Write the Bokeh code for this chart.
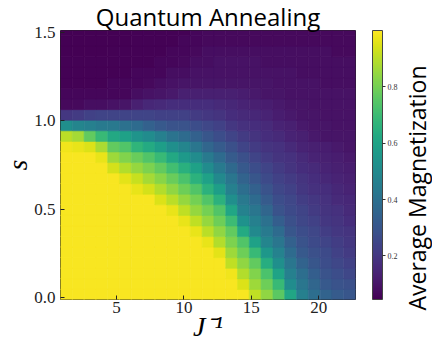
from bokeh.plotting import figure
from bokeh.layouts import row
from bokeh.models import (ColumnDataSource, LinearColorMapper, ColorBar, FixedTicker,
                          Range1d, NumeralTickFormatter, Title)
from bokeh.palettes import Viridis256
from bokeh.transform import transform
from bokeh.embed import file_html
from bokeh.resources import INLINE

# ---- data ----
j_inv = [1.29, 2.16, 3.04, 3.91, 4.79, 5.66, 6.54, 7.41, 8.29, 9.16, 10.04, 10.91, 11.79,
         12.66, 13.54, 14.41, 15.29, 16.16, 17.04, 17.91, 18.79, 19.66, 20.54, 21.41, 22.29]
s_vals = [0.015, 0.075, 0.135, 0.195, 0.255, 0.315, 0.375, 0.435, 0.495, 0.555, 0.615, 0.675, 0.735,
          0.795, 0.855, 0.915, 0.975, 1.035, 1.095, 1.155, 1.215, 1.275, 1.335, 1.395, 1.455, 1.515]
# one list per J^-1 column, s ascending
magnetization = [
    [.99, .99, .99, .99, .99, .99, .99, .99, .99, .99, .99, .99, .99, .99, .98, .90, .52, .20, .07, .06, .05, .05, .05, .04, .04, .04],
    [.99, .99, .99, .99, .99, .99, .99, .99, .99, .99, .99, .99, .99, .99, .97, .87, .48, .21, .07, .06, .05, .05, .05, .04, .04, .04],
    [.99, .99, .99, .99, .99, .99, .99, .99, .99, .99, .99, .99, .99, .99, .95, .77, .46, .23, .08, .06, .05, .05, .05, .04, .04, .04],
    [.99, .99, .99, .99, .99, .99, .99, .99, .99, .99, .99, .99, .99, .97, .88, .69, .44, .24, .08, .06, .05, .05, .05, .04, .04, .04],
    [.99, .99, .99, .99, .99, .99, .99, .99, .99, .99, .99, .99, .94, .86, .77, .62, .43, .24, .09, .06, .06, .05, .05, .05, .04, .04],
    [.99, .99, .99, .99, .99, .99, .99, .99, .99, .99, .99, .96, .89, .82, .74, .59, .40, .24, .10, .06, .06, .05, .05, .05, .04, .04],
    [.99, .99, .99, .99, .99, .99, .99, .99, .99, .99, .97, .92, .85, .78, .67, .54, .38, .24, .13, .08, .06, .06, .05, .05, .05, .05],
    [.99, .99, .99, .99, .99, .99, .99, .99, .99, .99, .94, .87, .81, .74, .63, .51, .34, .24, .15, .09, .07, .06, .05, .05, .05, .05],
    [.99, .99, .99, .99, .99, .99, .99, .99, .99, .95, .89, .83, .77, .69, .58, .46, .31, .23, .16, .10, .08, .06, .06, .05, .05, .05],
    [.99, .99, .99, .99, .99, .99, .99, .99, .97, .90, .84, .78, .71, .62, .52, .41, .29, .23, .17, .11, .09, .08, .06, .06, .05, .05],
    [.99, .99, .99, .99, .99, .99, .99, .97, .91, .85, .79, .73, .65, .56, .48, .38, .29, .23, .17, .13, .10, .08, .07, .06, .06, .05],
    [.99, .99, .99, .99, .99, .99, .97, .91, .85, .80, .74, .66, .59, .51, .42, .34, .27, .21, .17, .13, .10, .09, .08, .07, .06, .06],
    [.99, .99, .99, .99, .99, .97, .90, .85, .80, .74, .66, .59, .51, .44, .36, .30, .25, .20, .17, .13, .10, .09, .08, .08, .07, .07],
    [.99, .99, .99, .99, .96, .89, .84, .79, .74, .66, .58, .50, .44, .38, .32, .27, .23, .19, .16, .13, .10, .09, .09, .08, .07, .07],
    [.99, .99, .98, .91, .86, .81, .77, .70, .61, .52, .46, .42, .37, .32, .28, .24, .20, .17, .15, .13, .10, .09, .09, .08, .07, .07],
    [.99, .95, .89, .84, .79, .74, .63, .53, .47, .43, .39, .35, .31, .28, .24, .21, .18, .16, .14, .12, .10, .09, .09, .08, .07, .07],
    [.91, .86, .82, .77, .69, .59, .50, .46, .42, .38, .34, .30, .27, .24, .21, .19, .17, .15, .13, .11, .10, .09, .09, .08, .07, .07],
    [.84, .79, .73, .64, .55, .48, .44, .40, .36, .32, .29, .26, .24, .21, .19, .17, .16, .14, .12, .10, .10, .09, .08, .08, .07, .07],
    [.76, .69, .60, .52, .47, .42, .38, .33, .29, .27, .25, .23, .21, .19, .18, .16, .14, .12, .11, .10, .09, .09, .08, .08, .07, .07],
    [.61, .51, .46, .42, .38, .34, .30, .28, .26, .25, .23, .21, .19, .18, .16, .14, .13, .11, .10, .09, .09, .09, .08, .08, .07, .07],
    [.46, .42, .39, .35, .31, .29, .27, .25, .24, .22, .20, .19, .17, .16, .14, .13, .11, .10, .10, .09, .09, .08, .08, .08, .07, .07],
    [.39, .36, .33, .30, .28, .26, .25, .23, .21, .20, .18, .17, .16, .14, .13, .11, .10, .10, .09, .09, .09, .08, .08, .08, .07, .07],
    [.35, .31, .29, .27, .26, .24, .22, .20, .19, .18, .17, .15, .14, .13, .12, .10, .10, .09, .09, .09, .08, .08, .08, .08, .07, .07],
    [.32, .29, .27, .25, .23, .22, .20, .19, .18, .16, .15, .14, .13, .12, .11, .10, .09, .09, .09, .09, .08, .08, .08, .07, .07, .07],
    [.30, .28, .25, .23, .21, .20, .19, .17, .16, .15, .14, .13, .12, .11, .10, .10, .09, .09, .09, .09, .08, .08, .08, .07, .07, .07],
]
x_ticks = [5, 10, 15, 20]
y_ticks = [0.0, 0.5, 1.0, 1.5]
cbar_ticks = [0.2, 0.4, 0.6, 0.8]
title_text = "Quantum Annealing"
x_label = "J\u207b\u00b9"
y_label = "s"
cbar_label = "Average Magnetization"

# ---- build cell table ----
xs, ys, vs = [], [], []
for j, col in zip(j_inv, magnetization):
    for s, v in zip(s_vals, col):
        xs.append(j)
        ys.append(s)
        vs.append(v)
src = ColumnDataSource(dict(x=xs, y=ys, v=vs))
cell_w = j_inv[1] - j_inv[0]
cell_h = s_vals[1] - s_vals[0]

mapper = LinearColorMapper(palette=Viridis256, low=0.045, high=1.0)

p = figure(frame_width=295, frame_height=269,
           x_range=Range1d(0.85, 22.72), y_range=Range1d(-0.013, 1.513),
           output_backend="svg", toolbar_location=None,
           min_border_left=60, min_border_right=43, min_border_top=30, min_border_bottom=54,
           background_fill_color="white", border_fill_color="white")

p.title.text = title_text
p.title.align = "center"
p.title.text_font = "Open Sans"
p.title.text_font_size = "24px"
p.title.text_font_style = "normal"
p.title.text_color = "black"
p.title.standoff = -5

p.rect(x="x", y="y", width=cell_w + 0.01, height=cell_h + 0.002, source=src,
       fill_color=transform("v", mapper), line_color=transform("v", mapper), line_width=0.6)

p.grid.visible = False
p.outline_line_color = "#222222"
p.outline_line_width = 1

for ax in (p.xaxis[0], p.yaxis[0]):
    ax.axis_line_color = None
    ax.major_tick_in = 4
    ax.major_tick_out = 0
    ax.major_tick_line_color = "#222222"
    ax.minor_tick_line_color = None
    ax.major_label_text_font = "Liberation Serif"
    ax.major_label_text_font_size = "17px"
    ax.major_label_text_color = "#222222"
    ax.axis_label_text_font = "Liberation Serif"
    ax.axis_label_text_font_style = "italic"
    ax.axis_label_text_color = "black"
p.xaxis.ticker = FixedTicker(ticks=x_ticks)
p.yaxis.ticker = FixedTicker(ticks=y_ticks)
p.yaxis.formatter = NumeralTickFormatter(format="0.0")
p.xaxis.major_label_standoff = 2
p.yaxis.major_label_standoff = 5
p.xaxis.axis_label = x_label
p.xaxis.axis_label_text_font_size = "28px"
p.xaxis.axis_label_standoff = -5
p.yaxis.axis_label = y_label
p.yaxis.axis_label_text_font_size = "27px"
p.yaxis.axis_label_standoff = -2

# spacer between frame and colour bar
p.add_layout(Title(text=" ", text_font_size="2px", standoff=13), "right")
cbar = ColorBar(color_mapper=mapper, ticker=FixedTicker(ticks=cbar_ticks),
                formatter=NumeralTickFormatter(format="0.0"),
                width=10, height=269, padding=0, margin=0,
                major_label_text_font="Liberation Serif", major_label_text_font_size="8px",
                major_label_text_color="#333333",
                major_tick_in=0, major_tick_out=3, major_tick_line_color="#333333",
                bar_line_color="#444444", bar_line_width=1,
                background_fill_alpha=0, label_standoff=2)
p.add_layout(cbar, "right")

# narrow companion figure carrying the colour-bar label (reads bottom to top)
q = figure(width=34, height=353, x_range=Range1d(0, 1), y_range=Range1d(0, 1),
           output_backend="svg", toolbar_location=None,
           x_axis_location=None, y_axis_location=None,
           min_border_left=0, min_border_right=0, min_border_top=30, min_border_bottom=54,
           title=cbar_label, title_location="left",
           background_fill_color="white", border_fill_color="white")
q.outline_line_color = None
q.grid.visible = False
q.title.align = "left"
q.title.vertical_align = "top"
q.title.offset = -11
q.title.text_font = "Open Sans"
q.title.text_font_size = "23px"
q.title.text_font_style = "normal"
q.title.text_color = "black"
q.title.standoff = 0

layout = row(p, q)
open("out.html", "w").write(file_html(layout, INLINE))
